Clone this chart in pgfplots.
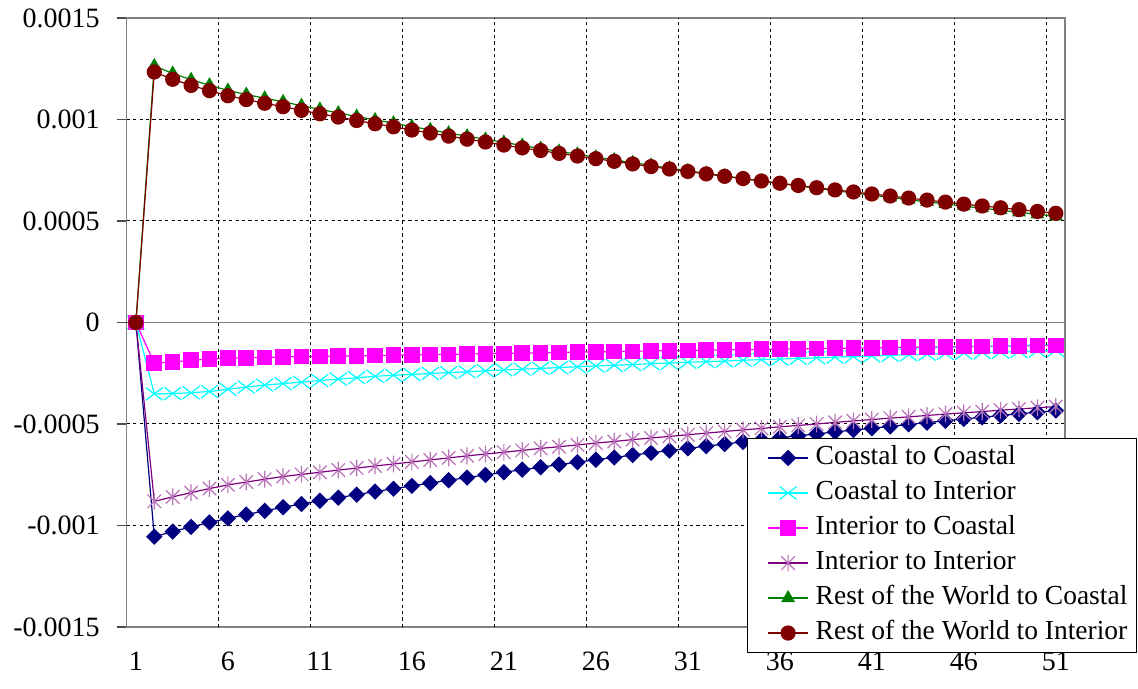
\documentclass[border=0pt]{standalone}
\usepackage{fontspec}
\setmainfont{Liberation Serif}
\usepackage{pgfplots}
\usepackage{pgfplotstable}
\pgfplotsset{compat=1.18}

\definecolor{cNavy}{RGB}{0,0,128}
\definecolor{cCyan}{RGB}{0,255,255}
\definecolor{cMagenta}{RGB}{255,0,255}
\definecolor{cPurple}{RGB}{128,0,128}
\definecolor{cGreen}{RGB}{0,128,0}
\definecolor{cMaroon}{RGB}{128,0,0}
\definecolor{cBorder}{RGB}{128,128,128}

% star marker: a cross with a vertical bar through it
\pgfdeclareplotmark{xstar}{%
  \pgfpathmoveto{\pgfqpoint{0pt}{\pgfplotmarksize}}%
  \pgfpathlineto{\pgfqpoint{0pt}{-\pgfplotmarksize}}%
  \pgfpathmoveto{\pgfqpoint{-.8\pgfplotmarksize}{-.8\pgfplotmarksize}}%
  \pgfpathlineto{\pgfqpoint{.8\pgfplotmarksize}{.8\pgfplotmarksize}}%
  \pgfpathmoveto{\pgfqpoint{-.8\pgfplotmarksize}{.8\pgfplotmarksize}}%
  \pgfpathlineto{\pgfqpoint{.8\pgfplotmarksize}{-.8\pgfplotmarksize}}%
  \pgfusepathqstroke}

% period, then the six responses
\pgfplotstableread{
x c2c c2i i2c i2i rwc rwi
1 0 0 0 0 0 0
2 -0.001055 -0.000352 -0.000200 -0.000881 0.001264 0.001234
3 -0.001030 -0.000350 -0.000195 -0.000859 0.001227 0.001198
4 -0.001007 -0.000346 -0.000186 -0.000838 0.001196 0.001168
5 -0.000985 -0.000340 -0.000180 -0.000818 0.001169 0.001142
6 -0.000965 -0.000329 -0.000176 -0.000800 0.001143 0.001117
7 -0.000946 -0.000318 -0.000174 -0.000786 0.001123 0.001098
8 -0.000928 -0.000308 -0.000172 -0.000772 0.001105 0.001080
9 -0.000910 -0.000301 -0.000170 -0.000759 0.001087 0.001063
10 -0.000894 -0.000294 -0.000168 -0.000748 0.001068 0.001045
11 -0.000878 -0.000286 -0.000167 -0.000738 0.001050 0.001028
12 -0.000863 -0.000279 -0.000166 -0.000727 0.001032 0.001012
13 -0.000848 -0.000272 -0.000164 -0.000717 0.001015 0.000995
14 -0.000833 -0.000265 -0.000163 -0.000707 0.000998 0.000979
15 -0.000819 -0.000260 -0.000161 -0.000697 0.000982 0.000964
16 -0.000805 -0.000256 -0.000160 -0.000687 0.000965 0.000948
17 -0.000791 -0.000251 -0.000158 -0.000677 0.000949 0.000933
18 -0.000777 -0.000247 -0.000157 -0.000667 0.000933 0.000918
19 -0.000764 -0.000243 -0.000155 -0.000657 0.000918 0.000903
20 -0.000751 -0.000238 -0.000154 -0.000648 0.000902 0.000889
21 -0.000738 -0.000234 -0.000152 -0.000639 0.000887 0.000874
22 -0.000725 -0.000230 -0.000151 -0.000630 0.000872 0.000860
23 -0.000713 -0.000226 -0.000149 -0.000620 0.000857 0.000847
24 -0.000700 -0.000222 -0.000148 -0.000612 0.000843 0.000833
25 -0.000688 -0.000218 -0.000146 -0.000603 0.000829 0.000820
26 -0.000676 -0.000214 -0.000145 -0.000594 0.000814 0.000807
27 -0.000665 -0.000211 -0.000143 -0.000586 0.000801 0.000794
28 -0.000653 -0.000207 -0.000142 -0.000577 0.000787 0.000781
29 -0.000642 -0.000203 -0.000140 -0.000569 0.000774 0.000768
30 -0.000631 -0.000200 -0.000139 -0.000561 0.000760 0.000756
31 -0.000620 -0.000196 -0.000138 -0.000553 0.000747 0.000744
32 -0.000609 -0.000193 -0.000136 -0.000545 0.000734 0.000732
33 -0.000599 -0.000190 -0.000135 -0.000537 0.000722 0.000720
34 -0.000588 -0.000186 -0.000134 -0.000529 0.000709 0.000709
35 -0.000578 -0.000183 -0.000132 -0.000522 0.000697 0.000697
36 -0.000568 -0.000180 -0.000131 -0.000514 0.000685 0.000686
37 -0.000558 -0.000177 -0.000130 -0.000507 0.000673 0.000675
38 -0.000549 -0.000174 -0.000128 -0.000500 0.000661 0.000664
39 -0.000539 -0.000171 -0.000127 -0.000492 0.000649 0.000653
40 -0.000530 -0.000168 -0.000126 -0.000485 0.000638 0.000643
41 -0.000521 -0.000165 -0.000125 -0.000478 0.000627 0.000633
42 -0.000512 -0.000162 -0.000124 -0.000471 0.000616 0.000623
43 -0.000502 -0.000159 -0.000122 -0.000465 0.000605 0.000613
44 -0.000493 -0.000156 -0.000121 -0.000458 0.000594 0.000603
45 -0.000484 -0.000153 -0.000120 -0.000451 0.000584 0.000593
46 -0.000475 -0.000151 -0.000119 -0.000445 0.000573 0.000583
47 -0.000467 -0.000148 -0.000118 -0.000439 0.000563 0.000574
48 -0.000458 -0.000146 -0.000116 -0.000432 0.000553 0.000565
49 -0.000450 -0.000143 -0.000115 -0.000426 0.000543 0.000556
50 -0.000442 -0.000140 -0.000114 -0.000420 0.000533 0.000547
51 -0.000434 -0.000138 -0.000113 -0.000414 0.000523 0.000538
}\responses

\begin{document}
\begin{tikzpicture}
\begin{axis}[
  name=ax,
  scale only axis,
  width=469.15pt, height=304.5pt,
  xmin=0.5, xmax=51.5,
  ymin=-0.0015, ymax=0.0015,
  axis line style={draw=cBorder, line width=0.6pt},
  scaled y ticks=false,
  xtick={1,6,11,16,21,26,31,36,41,46,51},
  xticklabels={1,6,11,16,21,26,31,36,41,46,51},
  xtick style={draw=none},
  ytick={-0.0015,-0.001,-0.0005,0.0005,0.001,0.0015},
  yticklabels={\textrm{-0.0015},\textrm{-0.001},\textrm{-0.0005},\textrm{0.0005},\textrm{0.001},\textrm{0.0015}},
  ytick pos=left,
  tick align=outside,
  major tick length=5pt,
  ytick style={draw=black!70, line width=0.6pt},
  ymajorgrids=true,
  major grid style={black, line width=0.5pt, dash pattern=on 1.6pt off 1.6pt},
  extra y ticks={0},
  extra y tick labels={\textrm{0}},
  extra y tick style={ymajorgrids=true, major grid style={solid, draw=cBorder, line width=0.7pt}},
  extra x ticks={5.5,10.5,...,50.5},
  extra x tick labels={},
  extra x tick style={xmajorgrids=true, xtick style={draw=none}},
  ticklabel style={font=\fontsize{14}{16}\selectfont},
  xticklabel style={yshift=-4pt},
  yticklabel style={xshift=-5pt},
  legend cell align=left,
  legend style={
    at={(0.6611,0.3103)}, anchor=north west,
    draw=black, line width=0.5pt, fill=white,
    font=\fontsize{13.75}{16}\selectfont,
    inner xsep=4.5pt, inner ysep=3.5pt,
    row sep=5pt, column sep=3.5pt,
    nodes={inner sep=0pt, text height=9.5pt, text depth=3pt},
  },
  legend image code/.code={%
    \path (0pt,0pt);
    \draw[mark repeat=2, mark phase=2, #1] plot coordinates {(5.5pt,0pt) (15.5pt,0pt) (25.5pt,0pt)};
  },
  every axis plot/.append style={line width=0.6pt},
]
\addplot[color=cNavy, mark=square*, mark size=2.6pt, mark options={rotate=45, solid}]
  table[x=x, y=c2c] {\responses};
\addlegendentry{Coastal to Coastal}
\addplot[color=cCyan, mark=x, mark size=5pt, mark options={solid, xscale=1.2, yscale=0.9}]
  table[x=x, y=c2i] {\responses};
\addlegendentry{Coastal to Interior}
\addplot[color=cMagenta, mark=square*, mark size=3.6pt, mark options={solid}]
  table[x=x, y=i2c] {\responses};
\addlegendentry{Interior to Coastal}
\addplot[color=cPurple, mark=xstar, mark size=4.2pt, mark options={solid, draw=cPurple!55!white}]
  table[x=x, y=i2i] {\responses};
\addlegendentry{Interior to Interior}
\addplot[color=cGreen, mark=triangle*, mark size=3.4pt, mark options={solid}]
  table[x=x, y=rwc] {\responses};
\addlegendentry{Rest of the World to Coastal}
\addplot[color=cMaroon, mark=*, mark size=3.5pt, mark options={solid}]
  table[x=x, y=rwi] {\responses};
\addlegendentry{Rest of the World to Interior}
\end{axis}
\pgfresetboundingbox
\path[use as bounding box] ([xshift=-63.35pt,yshift=-31pt]ax.south west) rectangle ([xshift=36.5pt,yshift=9pt]ax.north east);
\end{tikzpicture}
\end{document}
